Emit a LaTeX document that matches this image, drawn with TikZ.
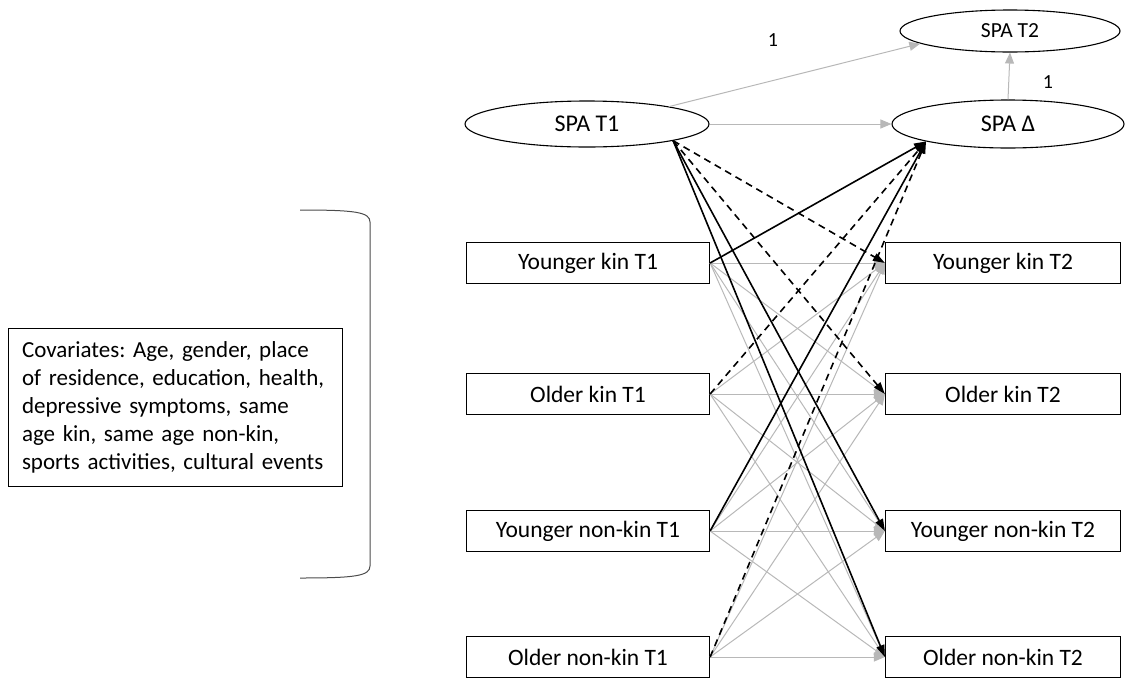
\documentclass[tikz,border=0pt]{standalone}
\usepackage{fontspec}
\setmainfont{Carlito}
\usetikzlibrary{arrows.meta,shapes.geometric}
\frenchspacing
\begin{document}
\begin{tikzpicture}[x=1pt, y=-1pt,
    varbox/.style={draw, line width=1.2pt, minimum height=41pt, inner sep=0pt, font=\fontsize{23.5}{28}\selectfont},
    latent/.style={draw, ellipse, line width=1.1pt, inner sep=0pt, font=\fontsize{24}{28}\selectfont},
    grayarr/.style={draw=black!28, line width=1pt, -{Triangle[length=11pt,width=9pt]}, black!28},
    pathsolid/.style={line width=1.6pt, -{Triangle[length=12pt,width=8pt]}},
    pathdash/.style={line width=1.6pt, dash pattern=on 7pt off 5pt, -{Triangle[length=12pt,width=8pt]}}]
    \useasboundingbox (0,0) rectangle (1127,678);

    \node[latent, minimum width=244pt, minimum height=46pt] (spa1) at (587,124) {SPA T1};
    \node[latent, minimum width=220pt, minimum height=42pt, font=\fontsize{21.5}{25}\selectfont] (spa2) at (1010,31) {SPA T2};
    \node[latent, minimum width=232pt, minimum height=48pt] (spad) at (1008,124) {SPA Δ};

    \node[varbox, minimum width=243pt] (yk1) at (588,263) {Younger kin T1};
    \node[varbox, minimum width=243pt] (ok1) at (588,394) {Older kin T1};
    \node[varbox, minimum width=243pt] (ynk1) at (588,531) {Younger non-kin T1};
    \node[varbox, minimum width=243pt] (onk1) at (588,657) {Older non-kin T1};

    \node[varbox, minimum width=235pt] (yk2) at (1003,263) {Younger kin T2};
    \node[varbox, minimum width=235pt] (ok2) at (1003,394) {Older kin T2};
    \node[varbox, minimum width=235pt] (ynk2) at (1003,531) {Younger non-kin T2};
    \node[varbox, minimum width=235pt] (onk2) at (1003,657) {Older non-kin T2};

    \node[draw, line width=1pt, minimum width=334pt, minimum height=158pt, text width=306pt, align=left,
        font=\fontsize{23}{28}\selectfont] (covs) at (175,407)
        {Covariates: Age, gender, place\\ of residence, education, health,\\ depressive symptoms, same\\ age kin, same age non-kin,\\ sports activities, cultural events};
    \draw[line width=1pt, black!70] (300,210) .. controls (355,210) and (370,212) .. (370,222)
        -- (370,566) .. controls (370,576) and (355,578) .. (300,578);

    % stability and change paths
    \draw[grayarr] (spa1.12) -- (spa2.188);
    \draw[grayarr] (spa1.east) -- (spad.west);
    \draw[grayarr] (spad.north) -- (spa2.south);
    \node[font=\fontsize{20}{24}\selectfont] (one1) at (773,40) {1};
    \node[font=\fontsize{20}{24}\selectfont] (one2) at (1048,82) {1};

    % cross-lagged among contacts
    \foreach \a in {yk1,ok1,ynk1,onk1}
        \foreach \b in {yk2,ok2,ynk2,onk2}
            \draw[grayarr] (\a.east) -- (\b.west);

    \draw[pathdash] (spa1.-11) -- (yk2.west);
    \draw[pathdash] (spa1.-11) -- (ok2.west);
    \draw[pathsolid] (spa1.-11) -- (ynk2.west);
    \draw[pathsolid] (spa1.-11) -- (onk2.west);

    \draw[pathsolid] (yk1.east) -- (spad.192);
    \draw[pathdash] (ok1.east) -- (spad.192);
    \draw[pathsolid] (ynk1.east) -- (spad.192);
    \draw[pathdash] (onk1.east) -- (spad.192);
\end{tikzpicture}
\end{document}
